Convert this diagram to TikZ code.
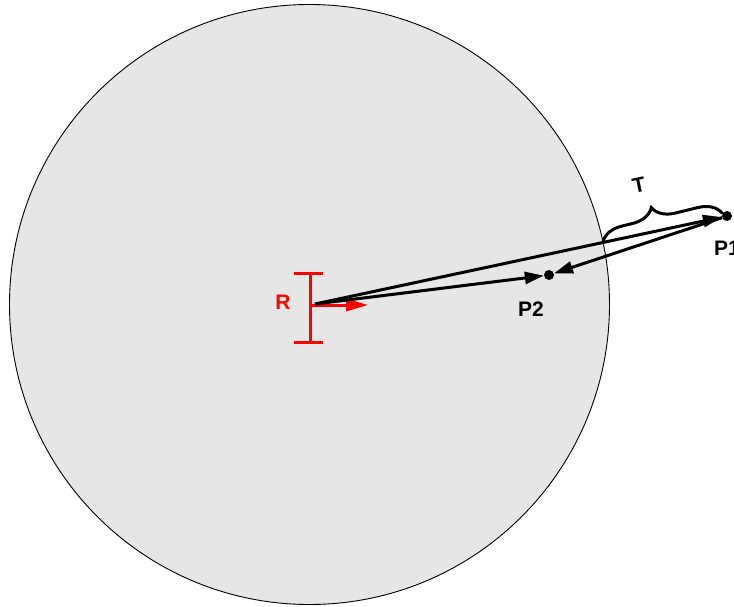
\documentclass[tikz,border=0pt]{standalone}
\usepackage{fontspec}
\setmainfont{Liberation Sans}
\usetikzlibrary{arrows.meta,decorations.pathreplacing}
\begin{document}
\begin{tikzpicture}[x=1pt,y=-1pt,
  blk/.style={line width=3pt,black},
  arr/.style={blk,-{Triangle[length=19pt,width=12pt]},shorten >=0pt},
  redl/.style={line width=3pt,red},
  lbl/.style={font=\fontsize{21}{24}\selectfont\bfseries,inner sep=0pt},
  dot/.style={circle,fill=black,inner sep=0pt,minimum size=10pt}]
\useasboundingbox (0,0) rectangle (734,607);
\node[circle,draw=black,line width=0.9pt,fill={rgb,255:red,230;green,230;blue,230},minimum size=600pt,inner sep=0pt] (C) at (309.5,304.5) {};
% red I-bar
\coordinate (Rt) at (310,273);
\coordinate (Rb) at (310,342);
\coordinate (Rc) at (310,305);
\coordinate (Re) at (368,305);
\draw[redl] (Rt) -- (Rb);
\draw[redl] ([xshift=-16pt]Rt) -- ([xshift=13pt]Rt);
\draw[redl] ([xshift=-16pt]Rb) -- ([xshift=13pt]Rb);
\draw[redl,-{Triangle[length=22pt,width=12pt]}] (Rc) -- (Re);
\node[lbl,text=red] (R) at (283,302) {R};
% points
\coordinate (O) at (315,304);
\node[dot] (P1) at (727,216) {};
\node[dot] (P2) at (549,275) {};
\draw[arr] (O) -- (P1);
\draw[arr] (O) -- (P2);
\draw[arr] (P1) -- (P2);
\node[lbl] (P1l) at (727,248) {P1};
\node[lbl] (P2l) at (531,309) {P2};
% brace
\coordinate (BA) at (603,242);
\coordinate (BB) at (722,213);
\draw[line width=3pt,line cap=round,decorate,decoration={brace,amplitude=22pt,aspect=0.45}] (BA) -- (BB);
\node[lbl,rotate=12] (T) at (639,185) {T};
\end{tikzpicture}
\end{document}
